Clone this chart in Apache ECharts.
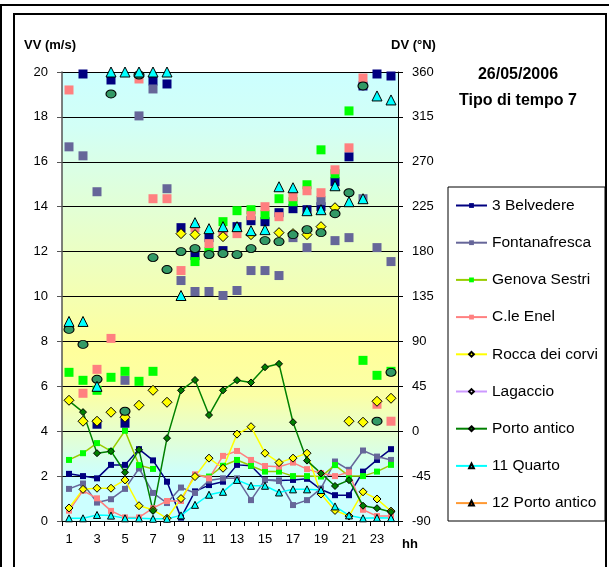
<!DOCTYPE html>
<html><head><meta charset="utf-8">
<script src="https://cdn.jsdelivr.net/npm/echarts@6/dist/echarts.min.js"></script>
<style>html,body{margin:0;padding:0;background:#fff}#c{width:609px;height:567px}</style>
</head><body><div id="c"></div>
<script>
const hours = ['1','2','3','4','5','6','7','8','9','10','11','12','13','14','15','16','17','18','19','20','21','22','23','24'];
const vvTicks = [0,2,4,6,8,10,12,14,16,18,20];
const dvTicks = [-90,-45,0,45,90,135,180,225,270,315,360];

// Wind speed VV (m/s), left axis
const vvBelvedere   = [2.1,2.0,1.9,2.5,2.5,3.2,2.7,1.75,0.15,1.32,1.6,1.75,2.5,2.46,1.83,1.8,1.83,1.88,1.4,1.15,1.15,2.2,2.72,3.2];
const vvFontana     = [1.43,1.67,0.82,0.97,1.43,2.34,1.25,0.8,1.49,1.25,1.8,1.9,1.9,0.93,1.83,1.78,0.71,0.93,1.45,2.65,2.28,3.14,2.87,2.72];
const vvGenova      = [2.72,3.02,3.47,3.11,4.02,2.49,2.32,null,null,2.05,1.98,2.46,2.72,2.46,2.2,2.2,2.0,2.0,1.98,2.49,2.0,2.0,2.2,2.5];
const vvEnel        = [0.46,1.35,1.01,0.45,0.16,0.16,0.57,0.89,0.89,2.08,1.9,2.9,3.12,2.72,2.45,2.42,2.6,2.31,2.13,2.0,2.17,0.5,0.22,0.22];
const vvRocca       = [0.58,1.41,1.46,1.46,1.83,0.68,0.5,0.12,1.0,1.98,2.8,2.35,3.87,4.2,3.02,2.6,2.8,3.02,1.2,0.47,0.22,1.3,0.98,0.44];
const vvLagaccio    = [null,null,null,null,null,null,null,null,null,null,null,null,null,null,null,null,null,null,null,null,null,null,null,null];
const vvPorto       = [5.35,4.85,3.02,3.11,2.17,3.17,0.45,3.69,5.82,6.28,4.72,5.82,6.27,6.17,6.85,7.0,4.4,2.69,2.12,1.56,1.82,0.68,0.57,0.4];
const vvQuarto      = [0.12,0.12,0.27,0.24,0.12,0.12,0.1,0.1,0.25,0.72,1.17,1.3,1.83,1.57,1.57,1.27,1.41,1.41,1.38,0.65,0.25,0.12,0.14,0.13];
const vvPorto12     = [null,null,null,null,null,null,null,null,null,null,null,null,null,null,null,null,null,null,null,null,null,null,null,null];

// Wind direction DV (°N), right axis
const dvBelvedere = [null,358,7,352,8,null,351,348,204,176,194,181,205,211,210,219,223,222,225,250,275,346,358,356];
const dvFontana   = [285,276,240,null,51,316,343,243,151,140,140,136,141,161,161,156,194,184,231,191,194,233,184,170];
const dvGenova    = [59,51,41,54,60,50,60,null,null,170,180,210,221,222,217,233,230,247,282,258,321,71,56,60];
const dvEnel      = [342,38,62,93,17,353,233,233,161,204,188,199,198,216,225,215,235,241,239,262,284,354,27,10];
const dvRocca     = [31,10,10,19,14,26,41,29,198,197,null,195,null,197,null,199,198,197,205,224,10,9,30,33];
const dvPorto     = [102,87,52,338,20,357,174,162,180,183,177,178,177,183,191,190,197,202,199,218,239,346,10,59];
const dvQuarto    = [110,110,45,360,360,360,360,360,136,209,203,205,205,201,202,245,244,221,222,246,230,233,336,332];

const FONT = 'Liberation Sans, Arial, sans-serif';
const chart = echarts.init(document.getElementById('c'), null, {renderer:'canvas'});

function line(name, data, lineColor, symbol, size, fill, border) {
  return {
    name, type:'line', data, yAxisIndex:0, connectNulls:false,
    symbol, symbolSize:size, showSymbol:true,
    lineStyle:{color:lineColor, width:1.5},
    itemStyle:{color:fill, borderColor:border||fill, borderWidth:border?1:0},
    emphasis:{disabled:true}, z:2, animation:false
  };
}
function dots(name, data, symbol, size, fill, border, z) {
  return {
    name, type:'scatter', data, yAxisIndex:1, symbol, symbolSize:size,
    itemStyle:{color:fill, borderColor:border||fill, borderWidth:border?1:0, opacity:1},
    emphasis:{disabled:true}, z:z, animation:false
  };
}

const names = ['3 Belvedere','Fontanafresca','Genova Sestri','C.le Enel','Rocca dei corvi','Lagaccio','Porto antico','11 Quarto','12 Porto antico'];

const option = {
  animation:false,
  backgroundColor:'#fff',
  textStyle:{fontFamily:FONT},
  grid:{left:62, right:211, top:72, bottom:46, show:true, borderWidth:0,
    backgroundColor:{type:'linear', x:0, y:0, x2:0, y2:1, colorStops:[
      {offset:0, color:'#ccffff'}, {offset:0.12, color:'#d2fff6'},
      {offset:0.62, color:'#ffff9c'}, {offset:0.72, color:'#fbffa6'},
      {offset:0.9, color:'#ccffff'}, {offset:1, color:'#ccffff'}]}},
  xAxis:{type:'category', data:hours, boundaryGap:true,
    axisLine:{show:true, lineStyle:{color:'#000', width:1}},
    axisTick:{show:true, interval:0, length:5, lineStyle:{color:'#000'}},
    axisLabel:{interval:1, color:'#000', fontSize:13, margin:12, fontFamily:FONT},
    splitLine:{show:false}},
  yAxis:[
    {type:'value', min:0, max:20, interval:2, position:'left',
      axisLine:{show:true, lineStyle:{color:'#555', width:1.5}},
      axisTick:{show:true, length:5, lineStyle:{color:'#555'}},
      axisLabel:{color:'#000', fontSize:13, margin:14, fontFamily:FONT,
        formatter:v=>vvTicks.includes(v)?String(v):''},
      splitLine:{show:true, lineStyle:{color:'#000', width:1}}},
    {type:'value', min:-90, max:360, interval:45, position:'right',
      axisLine:{show:true, lineStyle:{color:'#000', width:1}},
      axisTick:{show:true, length:5, lineStyle:{color:'#000'}},
      axisLabel:{color:'#000', fontSize:13, margin:14, fontFamily:FONT,
        formatter:v=>dvTicks.includes(v)?String(v):''},
      splitLine:{show:false}}
  ],
  legend:{orient:'vertical', left:455, top:197, padding:0, itemGap:20.2, itemWidth:31, itemHeight:6,
    data:names, selectedMode:false,
    textStyle:{fontSize:15.5, color:'#000', fontFamily:FONT, lineHeight:17}},
  graphic:[
    {type:'rect', shape:{x:1, y:5, width:700, height:700}, style:{fill:'none', stroke:'#000', lineWidth:2}, z:100, silent:true},
    {type:'rect', shape:{x:14, y:14, width:592, height:700}, style:{fill:'none', stroke:'#000', lineWidth:2}, z:100, silent:true},
    {type:'rect', shape:{x:448, y:187, width:157, height:334}, style:{fill:'none', stroke:'#000', lineWidth:1}, z:100, silent:true},
    {type:'text', left:24, top:39, style:{text:'VV (m/s)', font:'bold 13px '+FONT, fill:'#000'}, z:100},
    {type:'text', left:391, top:39, style:{text:'DV (°N)', font:'bold 13px '+FONT, fill:'#000'}, z:100},
    {type:'text', x:518, y:75, style:{text:'26/05/2006', font:'bold 16px '+FONT, fill:'#000', align:'center', verticalAlign:'middle'}, z:100},
    {type:'text', x:518, y:101, style:{text:'Tipo di tempo 7', font:'bold 16px '+FONT, fill:'#000', align:'center', verticalAlign:'middle'}, z:100},
    {type:'text', left:402, top:538, style:{text:'hh', font:'bold 13px '+FONT, fill:'#000'}, z:100}
  ],
  series:[
    line(names[0], vvBelvedere, '#000080', 'rect', 6, '#000080'),
    line(names[1], vvFontana, '#666699', 'rect', 6, '#666699'),
    line(names[2], vvGenova, '#99cc00', 'rect', 6, '#00ff00'),
    line(names[3], vvEnel, '#ff8080', 'rect', 6, '#ff8080'),
    line(names[4], vvRocca, '#ffff00', 'diamond', 8, '#ffff00', '#000'),
    line(names[5], vvLagaccio, '#cc99ff', 'diamond', 7, '#f0e0ff', '#000'),
    line(names[6], vvPorto, '#008000', 'diamond', 7, '#008000', '#000'),
    line(names[7], vvQuarto, '#00ffff', 'triangle', 7, '#00ffff', '#000'),
    line(names[8], vvPorto12, '#ff9933', 'triangle', 7, '#ff6600', '#000'),
    dots('dv1', dvBelvedere, 'rect', 9, '#000080', null, 3),
    dots('dv2', dvFontana, 'rect', 9, '#666699', null, 3),
    dots('dv3', dvGenova, 'rect', 9, '#00ff00', null, 3),
    dots('dv4', dvEnel, 'rect', 9, '#ff8080', null, 3),
    dots('dv5', dvRocca, 'diamond', 10, '#ffff00', '#000', 4),
    dots('dv7', dvPorto, 'circle', [10,8], '#339966', '#000', 4),
    dots('dv8', dvQuarto, 'triangle', 10, '#00ffff', '#000', 5)
  ]
};
chart.setOption(option);
</script>
</body></html>
